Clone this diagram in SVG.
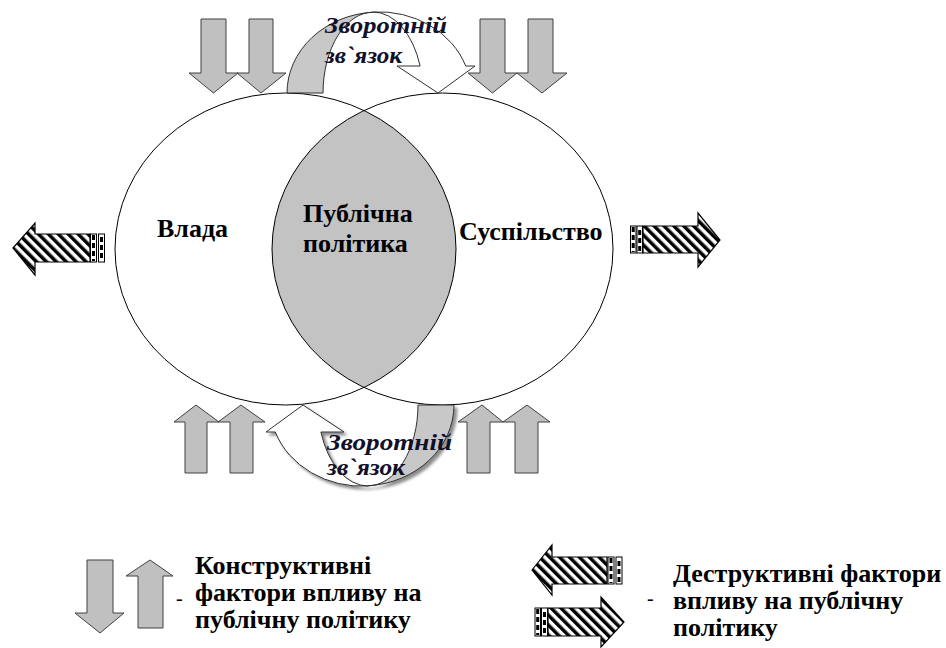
<svg xmlns="http://www.w3.org/2000/svg" width="946" height="648" viewBox="0 0 946 648">
<style>
.lbl{font-weight:bold;font-size:26px;fill:#000}
.fb{font-weight:bold;font-style:italic;font-size:24px;fill:#10102a}
.leg{font-weight:bold;font-size:26px;fill:#000}
.dash{font-size:20px;fill:#000}
.garrow{fill:#c0c0c0;stroke:#404040;stroke-width:1}
.harrow{fill:url(#hatch);stroke:#000;stroke-width:1.2}
.bar{fill:#fff;stroke:#000;stroke-width:1}
.bard{stroke:#000;stroke-width:3;stroke-dasharray:5 3;fill:none}
.ell{fill:none;stroke:#000;stroke-width:1}
</style>
<defs>
<pattern id="hatch" patternUnits="userSpaceOnUse" width="7" height="7" patternTransform="rotate(-45)">
<rect width="7" height="7" fill="#fff"/><rect width="3.5" height="7" fill="#000"/>
</pattern>
<filter id="shadow" x="-10%" y="-10%" width="130%" height="130%">
<feDropShadow dx="3" dy="3" stdDeviation="1.5" flood-color="#000" flood-opacity="0.45"/>
</filter>
</defs>
<rect width="946" height="648" fill="#fff"/>

<g id="venn">
<ellipse cx="285.5" cy="249" rx="170.5" ry="156" fill="#fff"/>
<ellipse cx="442.5" cy="249" rx="170.5" ry="156" fill="#fff"/>
<path d="M364,110.5 A170.5,156 0 0 1 364,387.5 A170.5,156 0 0 1 364,110.5 Z" fill="#c3c3c3"/>
<ellipse class="ell" cx="285.5" cy="249" rx="170.5" ry="156"/>
<ellipse class="ell" cx="442.5" cy="249" rx="170.5" ry="156"/>
</g>

<g id="node-vlada"><text class="lbl" font-family="Liberation Serif, serif" x="157" y="237">Влада</text></g>
<g id="node-public"><text class="lbl" font-family="Liberation Serif, serif" x="303" y="222">Публічна</text><text class="lbl" font-family="Liberation Serif, serif" x="303" y="252">політика</text></g>
<g id="node-society"><text class="lbl" font-family="Liberation Serif, serif" x="459" y="240">Суспільство</text></g>

<g id="connectors">
<g id="top-constructive">
<polygon class="garrow" points="201,19 226,19 226,73 238,73 213.5,93 189,73 201,73"/>
<polygon class="garrow" points="249,19 273,19 273,73 286,73 261,93 237,73 249,73"/>
<polygon class="garrow" points="480,19 505,19 505,73 517,73 492.5,93 468,73 480,73"/>
<polygon class="garrow" points="528,19 553,19 553,73 567,73 542,93 517,73 528,73"/>
</g>
<g id="bottom-constructive">
<polygon class="garrow" points="185,473 207,473 207,422 219,422 196,405 174,422 185,422"/>
<polygon class="garrow" points="230,473 253,473 253,422 265,422 241,405 218,422 230,422"/>
<polygon class="garrow" points="467,473 490,473 490,422 503,422 482,405 458,422 467,422"/>
<polygon class="garrow" points="515,473 538,473 538,422 550,422 527,405 503,422 515,422"/>
</g>
<g id="left-destructive">
<polygon class="harrow" points="13,248 35,223 35,234 90,234 90,262 35,262 35,275"/>
<rect class="bar" x="90.5" y="234" width="6" height="28"/><line class="bard" x1="93.5" y1="235" x2="93.5" y2="261"/>
<rect class="bar" x="98.5" y="234" width="6" height="28"/><line class="bard" x1="101.5" y1="237" x2="101.5" y2="261"/>
</g>
<g id="right-destructive">
<rect class="bar" x="630.5" y="226" width="5.5" height="27"/><line class="bard" x1="633.2" y1="227" x2="633.2" y2="252"/>
<rect class="bar" x="637" y="226" width="5.5" height="27"/><line class="bard" x1="639.7" y1="230" x2="639.7" y2="252"/>
<polygon class="harrow" points="643,226 698,226 698,213 720,240 698,267 698,253 643,253"/>
</g>
<g id="feedback-top">
<path d="M287,93 A92,81 0 0 1 373,12.2 A50,81 0 0 0 323,93 Z" fill="#c8c8c8" stroke="#303030" stroke-width="1"/>
<path d="M420.1,66 A50,81 0 0 0 373,12 A92,81 0 0 1 465.7,66 L475,66 L438,93 L397,66 Z" fill="#fff" stroke="#303030" stroke-width="1"/>
</g>
<g id="feedback-bottom" filter="url(#shadow)">
<g transform="rotate(180 370.5 249)">
<path d="M287,93 A92,81 0 0 1 373,12.2 A50,81 0 0 0 323,93 Z" fill="#c8c8c8" stroke="#303030" stroke-width="1"/>
<path d="M420.1,66 A50,81 0 0 0 373,12 A92,81 0 0 1 465.7,66 L475,66 L438,93 L397,66 Z" fill="#fff" stroke="#303030" stroke-width="1"/>
</g>
</g>
</g>

<g id="label-feedback-top">
<text class="fb" font-family="Liberation Serif, serif" x="325" y="33" textLength="122" lengthAdjust="spacingAndGlyphs">Зворотній</text>
<text class="fb" font-family="Liberation Serif, serif" x="325" y="63" textLength="77" lengthAdjust="spacingAndGlyphs">зв`язок</text>
</g>
<g id="label-feedback-bottom">
<text class="fb" font-family="Liberation Serif, serif" x="327" y="450" textLength="125" lengthAdjust="spacingAndGlyphs">Зворотній</text>
<text class="fb" font-family="Liberation Serif, serif" x="327" y="475" textLength="78" lengthAdjust="spacingAndGlyphs">зв`язок</text>
</g>

<g id="legend-constructive">
<polygon class="garrow" points="87,560 113,560 113,613 124,613 100,633 75,613 87,613"/>
<polygon class="garrow" points="138,628 163,628 163,576 173,576 150,560 126,576 138,576"/>
<text class="dash" font-family="Liberation Serif, serif" x="176" y="605">-</text>
<text class="leg" font-family="Liberation Serif, serif" x="195" y="574">Конструктивні</text>
<text class="leg" font-family="Liberation Serif, serif" x="195" y="601">фактори впливу на</text>
<text class="leg" font-family="Liberation Serif, serif" x="195" y="628">публічну політику</text>
</g>
<g id="legend-destructive">
<polygon class="harrow" points="532,570 552,545 552,557 607,557 607,584 552,584 552,595"/>
<rect class="bar" x="608" y="557" width="6" height="27"/><line class="bard" x1="611" y1="558" x2="611" y2="583"/>
<rect class="bar" x="616" y="557" width="6" height="27"/><line class="bard" x1="619" y1="561" x2="619" y2="583"/>
<rect class="bar" x="535" y="608" width="5.5" height="28"/><line class="bard" x1="537.7" y1="609" x2="537.7" y2="635"/>
<rect class="bar" x="541.5" y="608" width="6" height="28"/><line class="bard" x1="544.5" y1="612" x2="544.5" y2="635"/>
<polygon class="harrow" points="548,608 601,608 601,597 624,622 601,647 601,636 548,636"/>
<text class="dash" font-family="Liberation Serif, serif" x="647" y="605">-</text>
<text class="leg" font-family="Liberation Serif, serif" x="673" y="582">Деструктивні фактори</text>
<text class="leg" font-family="Liberation Serif, serif" x="673" y="609">впливу на публічну</text>
<text class="leg" font-family="Liberation Serif, serif" x="673" y="636">політику</text>
</g>
</svg>
